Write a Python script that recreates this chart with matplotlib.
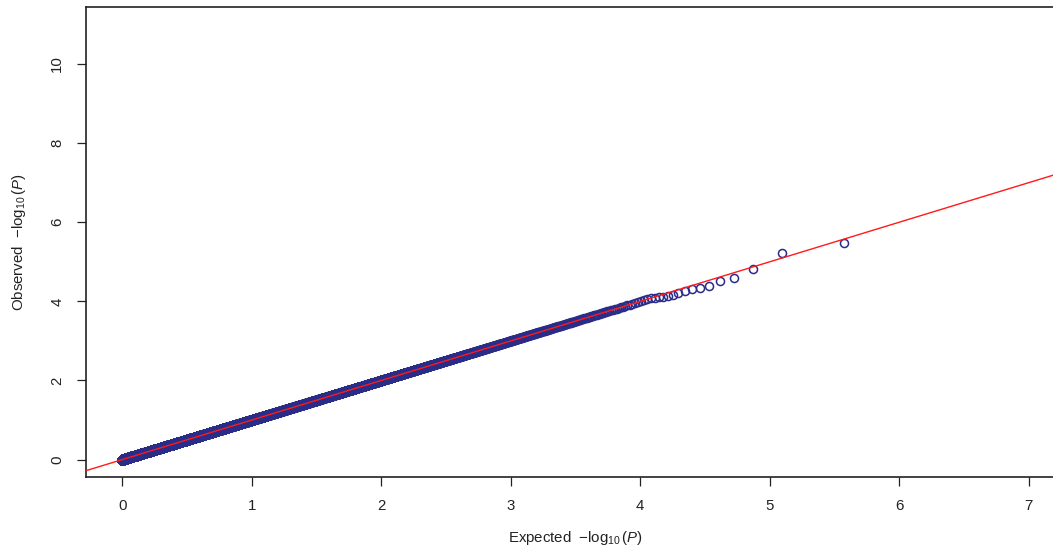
import numpy as np
import matplotlib
matplotlib.use("Agg")
import matplotlib.pyplot as plt

plt.rcParams['font.family'] = ['Liberation Sans', 'DejaVu Sans']
plt.rcParams['mathtext.fontset'] = 'custom'
plt.rcParams['mathtext.rm'] = 'Liberation Sans'
plt.rcParams['mathtext.it'] = 'Liberation Sans:italic'

# ---- data ----
n_tests = 187000                      # number of p-values (from top expected ≈ 5.57)
# observed -log10(P) of the most significant tests, ranks 1..20
observed_top = [5.47, 5.21, 4.82, 4.58, 4.51, 4.39, 4.34, 4.32, 4.25, 4.20,
                4.17, 4.14, 4.12, 4.10, 4.09, 4.08, 4.06, 4.04, 4.01, 3.99]
x_ticks = [0, 1, 2, 3, 4, 5, 6, 7]
y_ticks = [0, 2, 4, 6, 8, 10]
x_range = [0, 7]
y_range = [0, 11]

# expected quantiles (ppoints) of the uniform distribution
ranks = np.arange(1, n_tests + 1)
expected = -np.log10((ranks - 0.5) / n_tests)
# beyond the top ranks the points sit on the diagonal
observed = expected.copy()
observed[:len(observed_top)] = observed_top

# ---- figure ----
fig = plt.figure(figsize=(10.53, 5.48), dpi=100)
ax = fig.add_axes([86 / 1053, 1 - 477 / 548, (1065 - 86) / 1053, (477 - 7) / 548])

ax.plot(expected[::-1], observed[::-1], linestyle='none', marker='o',
        markersize=5.8, markerfacecolor='none', markeredgecolor='#2A2D88',
        markeredgewidth=1.1, zorder=2)

ax.axline((0, 0), slope=1, color='#FF1A1A', linewidth=1.0, zorder=3)

dx = 0.04 * (x_range[1] - x_range[0])
dy = 0.04 * (y_range[1] - y_range[0])
ax.set_xlim(x_range[0] - dx, x_range[1] + dx)
ax.set_ylim(y_range[0] - dy, y_range[1] + dy)

ax.set_xticks(x_ticks)
ax.set_yticks(y_ticks)
ax.set_xticklabels([str(t) for t in x_ticks])
ax.set_yticklabels([str(t) for t in y_ticks], rotation=90, va='center')
ax.tick_params(direction='out', length=6.7, width=0.9, labelsize=10.8, pad=9,
               color='#222222', labelcolor='#222222')

for s in ax.spines.values():
    s.set_linewidth(1.2)
    s.set_color('#222222')

fig.text(576 / 1053, 1 - 538 / 548, r'Expected  $-\log_{10}(\mathit{P})$',
         ha='center', va='center', fontsize=10.8, color='#222222')
fig.text(19 / 1053, 1 - 242 / 548, r'Observed  $-\log_{10}(\mathit{P})$',
         ha='center', va='center', rotation=90, fontsize=10.8, color='#222222')

fig.savefig('out.png', dpi=100)
